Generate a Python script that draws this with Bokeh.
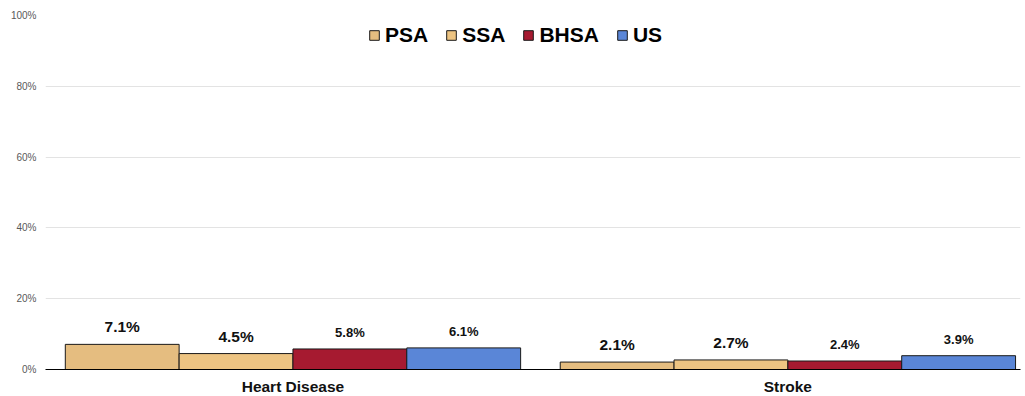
from bokeh.plotting import figure
from bokeh.models import ColumnDataSource, Range1d, FixedTicker, NumeralTickFormatter, Legend, LegendItem
from bokeh.core.properties import value
from bokeh.embed import file_html
from bokeh.resources import INLINE

categories = ["Heart Disease", "Stroke"]
series = ["PSA", "SSA", "BHSA", "US"]
psa = [7.1, 2.1]
ssa = [4.5, 2.7]
bhsa = [5.8, 2.4]
us = [6.1, 3.9]
y_ticks = [0, 20, 40, 60, 80, 100]

colors = ["#E5BD80", "#EDC482", "#A61A30", "#5A86D7"]
offsets = [-0.345, -0.115, 0.115, 0.345]
label_sizes = ["15.5px", "15.5px", "13px", "13px"]
bar_w = 0.23
FONT = "Liberation Sans"

p = figure(frame_width=975, frame_height=354, min_border_left=45, min_border_top=15,
           min_border_right=3, min_border_bottom=5,
           x_range=Range1d(-0.5, 1.47), y_range=Range1d(0, 1),
           output_backend="svg", toolbar_location=None)
p.outline_line_color = None
p.background_fill_color = "white"

items = []
for name, vals, col, off, fs in zip(series, [psa, ssa, bhsa, us], colors, offsets, label_sizes):
    src = ColumnDataSource(dict(
        x=[i + off for i in range(len(categories))],
        top=[v / 100 for v in vals],
        lab=[f"{v:.1f}%" for v in vals],
    ))
    r = p.vbar(x="x", top="top", width=bar_w, source=src, fill_color=col,
               line_color="#1a1a1a", line_width=1)
    p.text(x="x", y="top", text="lab", source=src, text_align="center",
           text_baseline="bottom", y_offset=-9, text_font=value(FONT),
           text_font_style="bold", text_font_size=fs, text_color="#111111")
    items.append(LegendItem(label=name, renderers=[r]))

legend = Legend(items=items, orientation="horizontal", location=(323, 322),
                glyph_width=12, glyph_height=12, label_standoff=5, spacing=17,
                margin=0, padding=8, border_line_color=None, background_fill_alpha=0,
                label_text_font=FONT, label_text_font_style="bold",
                label_text_font_size="21px", label_text_color="#000000")
p.add_layout(legend, "center")

# axes
p.yaxis.ticker = FixedTicker(ticks=[t / 100 for t in y_ticks])
p.yaxis.formatter = NumeralTickFormatter(format="0%")
p.yaxis.axis_line_color = None
p.yaxis.major_tick_line_color = None
p.yaxis.minor_tick_line_color = None
p.yaxis.major_tick_out = 0
p.yaxis.major_label_standoff = 9
p.yaxis.major_label_text_font = FONT
p.yaxis.major_label_text_font_size = "10px"
p.yaxis.major_label_text_color = "#595959"

p.xaxis.ticker = FixedTicker(ticks=list(range(len(categories))))
p.xaxis.major_label_overrides = {i: c for i, c in enumerate(categories)}
p.xaxis.axis_line_color = "#000000"
p.xaxis.axis_line_width = 1
p.xaxis.major_tick_line_color = None
p.xaxis.minor_tick_line_color = None
p.xaxis.major_tick_out = 0
p.xaxis.major_label_standoff = 8
p.xaxis.major_label_text_font = FONT
p.xaxis.major_label_text_font_style = "bold"
p.xaxis.major_label_text_font_size = "15.5px"
p.xaxis.major_label_text_color = "#111111"

p.xgrid.grid_line_color = None
p.ygrid.grid_line_color = "#E3E3E3"
p.ygrid.ticker = FixedTicker(ticks=[t / 100 for t in y_ticks])

open("out.html", "w").write(file_html(p, INLINE))
